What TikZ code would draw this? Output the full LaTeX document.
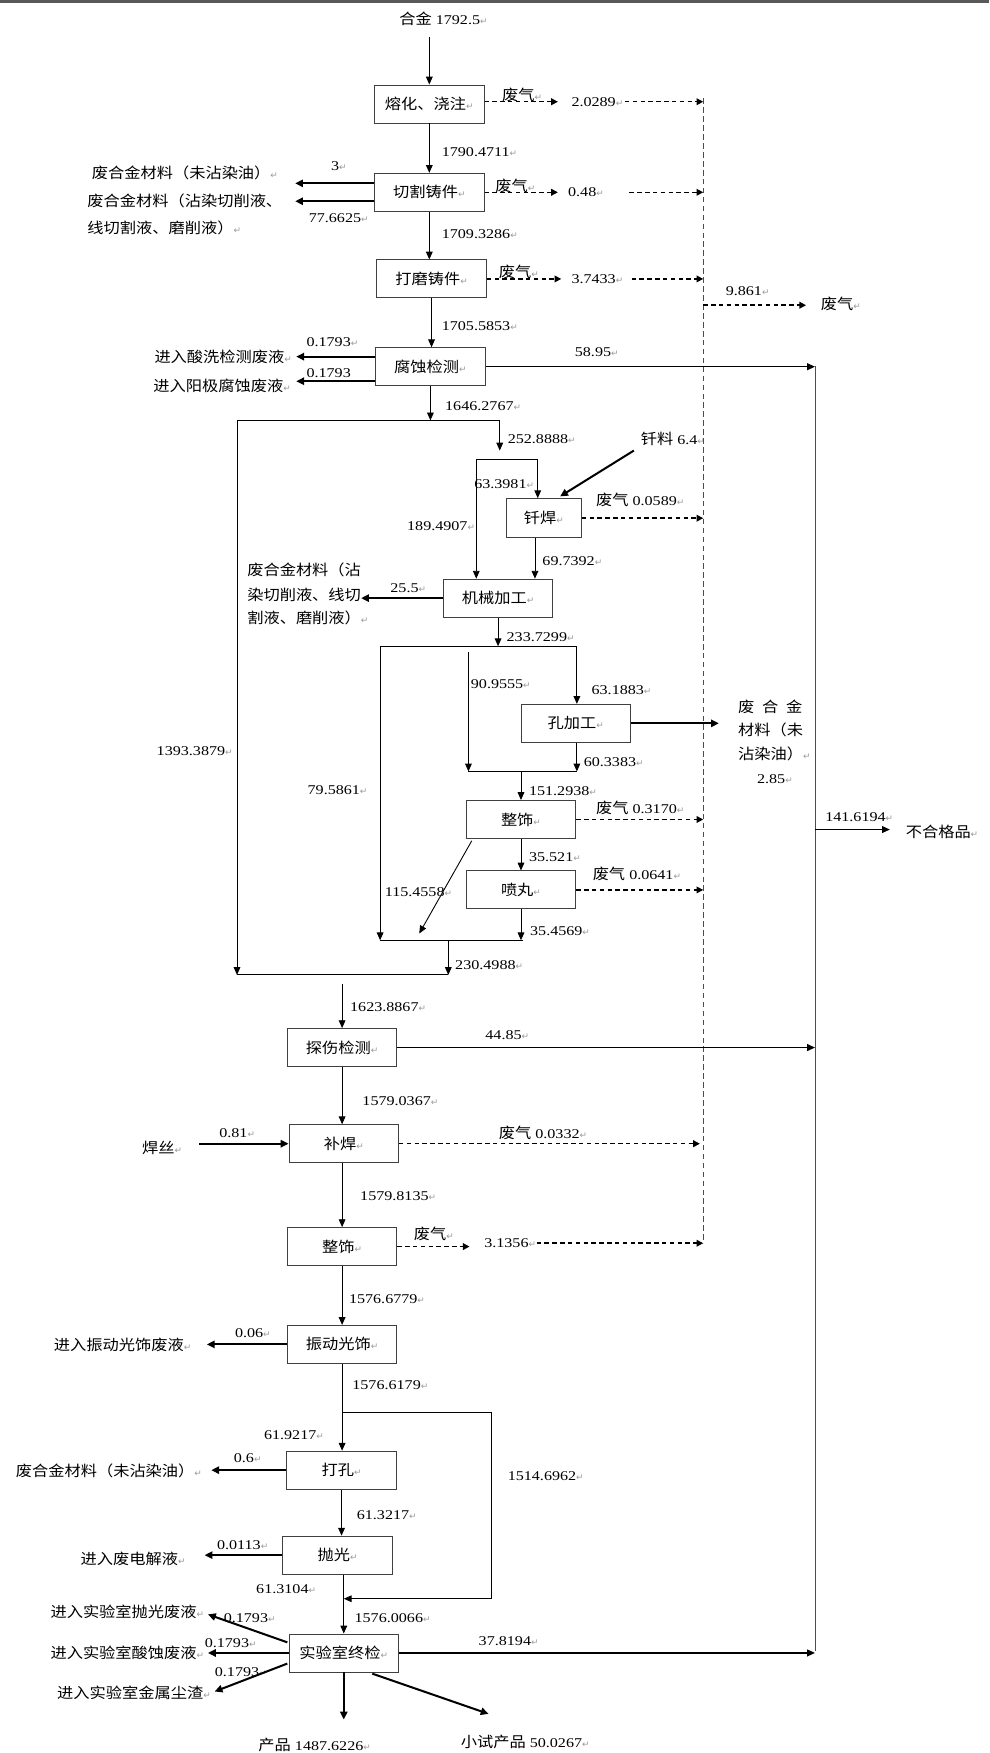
\documentclass[tikz,border=0pt]{standalone}
\usepackage{fontspec}
\setmainfont{Liberation Serif}[FakeStretch=1.2]
\newfontfamily\cjfont{Noto Sans CJK SC}[FakeStretch=1.1]
\newfontfamily\djfont{DejaVu Sans}
\usetikzlibrary{arrows.meta}
\newcommand{\zh}[1]{{\cjfont\fontsize{13.2}{15}\selectfont #1}}
\newcommand{\myret}{{\djfont\fontsize{8}{8}\selectfont\color{black!40}↵}}
\tikzset{
  pbox/.style={draw=black!75, line width=0.8pt, minimum width=98pt, minimum height=34pt, inner sep=0pt},
  lbl/.style={anchor=west, inner sep=0pt},
  arr/.style={line width=0.8pt, -{Triangle[length=7pt,width=6pt]}},
  tarr/.style={line width=1.8pt, -{Triangle[length=7pt,width=6.5pt]}},
  rarr/.style={line width=1.3pt, -{Triangle[length=7pt,width=6pt]}},
  darr/.style={line width=1.3pt, dash pattern=on 4pt off 3pt, -{Triangle[length=6pt,width=6pt]}},
  ln/.style={line width=0.8pt},
  coll/.style={line width=0.5pt, draw=black!70, dash pattern=on 5pt off 3pt},
  rline/.style={line width=0.5pt, draw=black!70}
}
\begin{document}
\begin{tikzpicture}[x=1pt,y=-1pt, font=\fontsize{12}{14}\selectfont]
\useasboundingbox (0,0) rectangle (885,1568);
\fill[black!65] (0,0) rectangle (885,3);

% ---------- boxes ----------
\node[pbox] (b1) at (384,93) {\zh{熔化、浇注}\myret};
\node[pbox] (b2) at (384,172) {\zh{切割铸件}\myret};
\node[pbox] (b3) at (386,249.5) {\zh{打磨铸件}\myret};
\node[pbox] (b4) at (385,328) {\zh{腐蚀检测}\myret};
\node[pbox, minimum width=67pt, minimum height=35pt] (b5) at (486.5,463.5) {\zh{钎焊}\myret};
\node[pbox] (b6) at (445.5,535) {\zh{机械加工}\myret};
\node[pbox] (b7) at (515,647) {\zh{孔加工}\myret};
\node[pbox] (b8) at (466,733) {\zh{整饰}\myret};
\node[pbox] (b9) at (466,796) {\zh{喷丸}\myret};
\node[pbox] (b10) at (306,937) {\zh{探伤检测}\myret};
\node[pbox] (b11) at (307.5,1023) {\zh{补焊}\myret};
\node[pbox] (b12) at (306,1115) {\zh{整饰}\myret};
\node[pbox] (b13) at (306,1202.5) {\zh{振动光饰}\myret};
\node[pbox] (b14) at (305.5,1315) {\zh{打孔}\myret};
\node[pbox] (b15) at (302,1391) {\zh{抛光}\myret};
\node[pbox] (b16) at (307.5,1478.5) {\zh{实验室终检}\myret};

% ---------- coordinates ----------
\coordinate (c0) at (384,33);
\coordinate (colT) at (629,88);
\coordinate (colB) at (629,1112);
\coordinate (rT) at (729,327);
\coordinate (rB) at (729,1477);
\coordinate (s1L) at (212,376);
\coordinate (s1R) at (447,376);
\coordinate (a1) at (447,403);
\coordinate (s2L) at (426,411);
\coordinate (s2R) at (481,411);
\coordinate (q1) at (567,403);
\coordinate (q2) at (501,444);
\coordinate (c5) at (478.5,481);
\coordinate (s3L) at (340,578);
\coordinate (s3R) at (516,578);
\coordinate (v90) at (419,583);
\coordinate (s4L) at (419,690);
\coordinate (s4R) at (516,690);
\coordinate (s4M) at (466,690);
\coordinate (p1) at (422,752);
\coordinate (p2) at (375,835);
\coordinate (s5L) at (340,841);
\coordinate (s5R) at (468,841);
\coordinate (s5M) at (401,841);
\coordinate (s6L) at (212,872);
\coordinate (s6R) at (401,872);
\coordinate (c10) at (306,880);
\coordinate (s7L) at (306,1263);
\coordinate (s7R) at (440,1263);
\coordinate (s7B) at (440,1430);
\coordinate (e1s) at (257,1469);
\coordinate (e1e) at (186,1444);
\coordinate (e3s) at (257,1488);
\coordinate (e3e) at (192,1513);
\coordinate (pd) at (307.5,1538);
\coordinate (e5s) at (333,1497);
\coordinate (e5e) at (437,1533);
\coordinate (e2a) at (264,164);
\coordinate (e2b) at (264,180);
\coordinate (e4a) at (265,319);
\coordinate (e4b) at (265,341);
\coordinate (e6) at (323,535);
\coordinate (e7) at (643,647);
\coordinate (hs1) at (178,1023);
\coordinate (e13) at (185,1202.5);
\coordinate (e14) at (189,1315);
\coordinate (e15) at (183,1391);
\coordinate (e16) at (186,1478.5);
\coordinate (nq) at (796,742);
\coordinate (gq) at (721,273);
\coordinate (g1e) at (499,91);
\coordinate (g1s) at (559,91);
\coordinate (g2e) at (499,172);
\coordinate (g2s) at (563,172);
\coordinate (g3e) at (502,249.5);
\coordinate (g3s) at (565,249.5);
\coordinate (g11) at (626,1023);
\coordinate (g12e) at (420,1115);
\coordinate (g12s) at (480,1112);

% ---------- labels ----------
\node[lbl] (t0) at (357,17) {\zh{合金} 1792.5\myret};
\node[lbl] (l1) at (395,136) {1790.4711\myret};
\node[lbl] (g1) at (449,85) {\zh{废气}\myret};
\node[lbl] (v1) at (511,91) {2.0289\myret};
\node[lbl] (g2) at (443,166) {\zh{废气}\myret};
\node[lbl] (v2) at (508,172) {0.48\myret};
\node[lbl] (g3) at (446,243) {\zh{废气}\myret};
\node[lbl] (v3) at (511,250) {3.7433\myret};
\node[lbl] (v4) at (649,260) {9.861\myret};
\node[lbl] (g4) at (734,272) {\zh{废气}\myret};
\node[lbl] (n3) at (296,149) {3\myret};
\node[lbl] (n77) at (276,195) {77.6625\myret};
\node[lbl] (w1) at (82,155) {\zh{废合金材料（未沾染油）}\myret};
\node[lbl] (w2) at (78,180) {\zh{废合金材料（沾染切削液、}};
\node[lbl] (w3) at (78,204) {\zh{线切割液、磨削液）}\myret};
\node[lbl] (l2) at (395,209) {1709.3286\myret};
\node[lbl] (l3) at (395,291.5) {1705.5853\myret};
\node[lbl] (n41) at (274,306) {0.1793\myret};
\node[lbl] (n42) at (274,333.5) {0.1793};
\node[lbl] (w4) at (138,319) {\zh{进入酸洗检测废液}\myret};
\node[lbl] (w5) at (137,345) {\zh{进入阳极腐蚀废液}\myret};
\node[lbl] (n58) at (514,315) {58.95\myret};
\node[lbl] (l4) at (398,363) {1646.2767\myret};
\node[lbl] (l5) at (454,393) {252.8888\myret};
\node[lbl] (ql) at (573,393) {\zh{钎料} 6.4\myret};
\node[lbl] (l6) at (424,433) {63.3981\myret};
\node[lbl] (l7) at (364,471) {189.4907\myret};
\node[lbl] (g5) at (533,447) {\zh{废气} 0.0589\myret};
\node[lbl] (l8) at (485,502) {69.7392\myret};
\node[lbl] (n25) at (349,526.5) {25.5\myret};
\node[lbl] (w6) at (221,509.5) {\zh{废合金材料（沾}};
\node[lbl] (w7) at (221,532) {\zh{染切削液、线切}};
\node[lbl] (w8) at (221,553) {\zh{割液、磨削液）}\myret};
\node[lbl] (l9) at (453,570) {233.7299\myret};
\node[lbl] (l10) at (529,617) {63.1883\myret};
\node[lbl] (l11) at (421,612) {90.9555\myret};
\node[lbl] (w9) at (660,632) {\zh{废\hspace{7pt}合\hspace{7pt}金}};
\node[lbl] (w10) at (660,653) {\zh{材料（未}};
\node[lbl] (w11) at (660,674) {\zh{沾染油）}\myret};
\node[lbl] (n285) at (677,697) {2.85\myret};
\node[lbl] (l12) at (140,672) {1393.3879\myret};
\node[lbl] (l13) at (522,682) {60.3383\myret};
\node[lbl] (l14) at (473,708) {151.2938\myret};
\node[lbl] (l15) at (275,707) {79.5861\myret};
\node[lbl] (g6) at (533,723) {\zh{废气} 0.3170\myret};
\node[lbl] (n141) at (738,731) {141.6194\myret};
\node[lbl] (bhg) at (810,744) {\zh{不合格品}\myret};
\node[lbl] (l16) at (473,767) {35.521\myret};
\node[lbl] (l17) at (344,798) {115.4558\myret};
\node[lbl] (g7) at (530,782) {\zh{废气} 0.0641\myret};
\node[lbl] (l18) at (474,833) {35.4569\myret};
\node[lbl] (l19) at (407,863) {230.4988\myret};
\node[lbl] (l20) at (313,901) {1623.8867\myret};
\node[lbl] (n44) at (434,926) {44.85\myret};
\node[lbl] (l21) at (324,985) {1579.0367\myret};
\node[lbl] (hs) at (127,1027) {\zh{焊丝}\myret};
\node[lbl] (n081) at (196,1013.5) {0.81\myret};
\node[lbl] (g8) at (446,1013.5) {\zh{废气} 0.0332\myret};
\node[lbl] (l22) at (322,1070) {1579.8135\myret};
\node[lbl] (g9) at (370,1104) {\zh{废气}\myret};
\node[lbl] (v12) at (433,1112) {3.1356\myret};
\node[lbl] (l23) at (312,1162) {1576.6779\myret};
\node[lbl] (n006) at (210,1192) {0.06\myret};
\node[lbl] (w12) at (48,1203) {\zh{进入振动光饰废液}\myret};
\node[lbl] (l24) at (315,1239) {1576.6179\myret};
\node[lbl] (l25) at (236,1284) {61.9217\myret};
\node[lbl] (n06) at (209,1304) {0.6\myret};
\node[lbl] (w13) at (14,1316) {\zh{废合金材料（未沾染油）}\myret};
\node[lbl] (l26) at (454,1320) {1514.6962\myret};
\node[lbl] (l27) at (319,1355) {61.3217\myret};
\node[lbl] (n0113) at (194,1382) {0.0113\myret};
\node[lbl] (w14) at (72,1394) {\zh{进入废电解液}\myret};
\node[lbl] (l28) at (229,1421) {61.3104\myret};
\node[lbl] (l29) at (317,1447) {1576.0066\myret};
\node[lbl] (n378) at (428,1467.5) {37.8194\myret};
\node[lbl] (w15) at (45,1442) {\zh{进入实验室抛光废液}\myret};
\node[lbl] (n1a) at (200,1447) {0.1793\myret};
\node[lbl] (w16) at (45,1478) {\zh{进入实验室酸蚀废液}\myret};
\node[lbl] (n1b) at (183,1470) {0.1793\myret};
\node[lbl] (n1c) at (192,1496) {0.1793\myret};
\node[lbl] (w17) at (51,1514) {\zh{进入实验室金属尘渣}\myret};
\node[lbl] (pr) at (231,1561) {\zh{产品} 1487.6226\myret};
\node[lbl] (pr2) at (412,1558) {\zh{小试产品} 50.0267\myret};

% ---------- collector lines ----------
\draw[coll] (colT) -- (colB);
\draw[rline] (rT) -- (rB);

% ---------- main chain ----------
\draw[arr] (c0) -- (b1.north);
\draw[arr] (b1.south) -- (b1.south |- b2.north);
\draw[arr] (b2.south) -- (b2.south |- b3.north);
\draw[arr] (b3.south) -- (b3.south |- b4.north);
\draw[arr] (b4.south) -- (b4.south |- s1L);
\draw[ln] (s1L) -- (s1R);
\draw[arr] (s1R) -- (a1);
\draw[ln] (s2L) -- (s2R);
\draw[arr] (s2L) -- (s2L |- b6.north);
\draw[arr] (s2R) -- (s2R |- b5.north);
\draw[tarr] (q1) -- (q2);
\draw[arr] (c5) -- (c5 |- b6.north);
\draw[arr] (b6.south) -- (b6.south |- s3L);
\draw[ln] (s3L) -- (s3R);
\draw[arr] (s3L) -- (s5L);
\draw[arr] (s3R) -- (s3R |- b7.north);
\draw[arr] (v90) -- (s4L);
\draw[arr] (b7.south -| s4R) -- (s4R);
\draw[ln] (s4L) -- (s4R);
\draw[arr] (s4M) -- (s4M |- b8.north);
\draw[arr] (b8.south) -- (b8.south |- b9.north);
\draw[arr] (p1) -- (p2);
\draw[arr] (b9.south) -- (b9.south |- s5R);
\draw[ln] (s5L) -- (s5R);
\draw[arr] (s5M) -- (s6R);
\draw[arr] (s1L) -- (s6L);
\draw[ln] (s6L) -- (s6R);
\draw[arr] (c10) -- (c10 |- b10.north);
\draw[arr] (b10.south) -- (b10.south |- b11.north);
\draw[arr] (b11.south -| b10.south) -- (b10.south |- b12.north);
\draw[arr] (b12.south) -- (b12.south |- b13.north);
\draw[ln] (b13.south) -- (s7L);
\draw[ln] (s7L) -- (s7R) -- (s7B);
\draw[arr] (s7B) -- (s7B -| b16.north);
\draw[arr] (s7L) -- (s7L |- b14.north);
\draw[arr] (b14.south) -- (b14.south |- b15.north);
\draw[arr] (b15.south -| b16.north) -- (b16.north);
\draw[tarr] (b16.south) -- (pd);
\draw[tarr] (e5s) -- (e5e);

% ---------- side outputs ----------
\draw[tarr] (b2.west |- e2a) -- (e2a);
\draw[tarr] (b2.west |- e2b) -- (e2b);
\draw[tarr] (b4.west |- e4a) -- (e4a);
\draw[tarr] (b4.west |- e4b) -- (e4b);
\draw[tarr] (b6.west) -- (e6);
\draw[tarr] (b7.east) -- (e7);
\draw[tarr] (hs1) -- (b11.west);
\draw[tarr] (b13.west) -- (e13);
\draw[tarr] (b14.west) -- (e14);
\draw[tarr] (b15.west) -- (e15);
\draw[tarr] (e1s) -- (e1e);
\draw[tarr] (b16.west) -- (e16);
\draw[tarr] (e3s) -- (e3e);

% ---------- to rejects ----------
\draw[rarr] (b4.east) -- (b4.east -| rT);
\draw[rarr] (b10.east) -- (b10.east -| rT);
\draw[rarr] (b16.east) -- (b16.east -| rT);
\draw[rarr] (rT |- nq) -- (nq);

% ---------- gases ----------
\draw[darr] (b1.east |- g1e) -- (g1e);
\draw[darr] (g1s) -- (g1s -| colT);
\draw[darr] (b2.east) -- (g2e);
\draw[darr] (g2s) -- (g2s -| colT);
\draw[darr] (b3.east) -- (g3e);
\draw[darr] (g3s) -- (g3s -| colT);
\draw[darr] (colT |- gq) -- (gq);
\draw[darr] (b5.east) -- (b5.east -| colT);
\draw[darr] (b8.east) -- (b8.east -| colT);
\draw[darr] (b9.east) -- (b9.east -| colT);
\draw[darr] (b11.east) -- (g11);
\draw[darr] (b12.east) -- (g12e);
\draw[darr] (g12s) -- (colB);
\end{tikzpicture}
\end{document}
